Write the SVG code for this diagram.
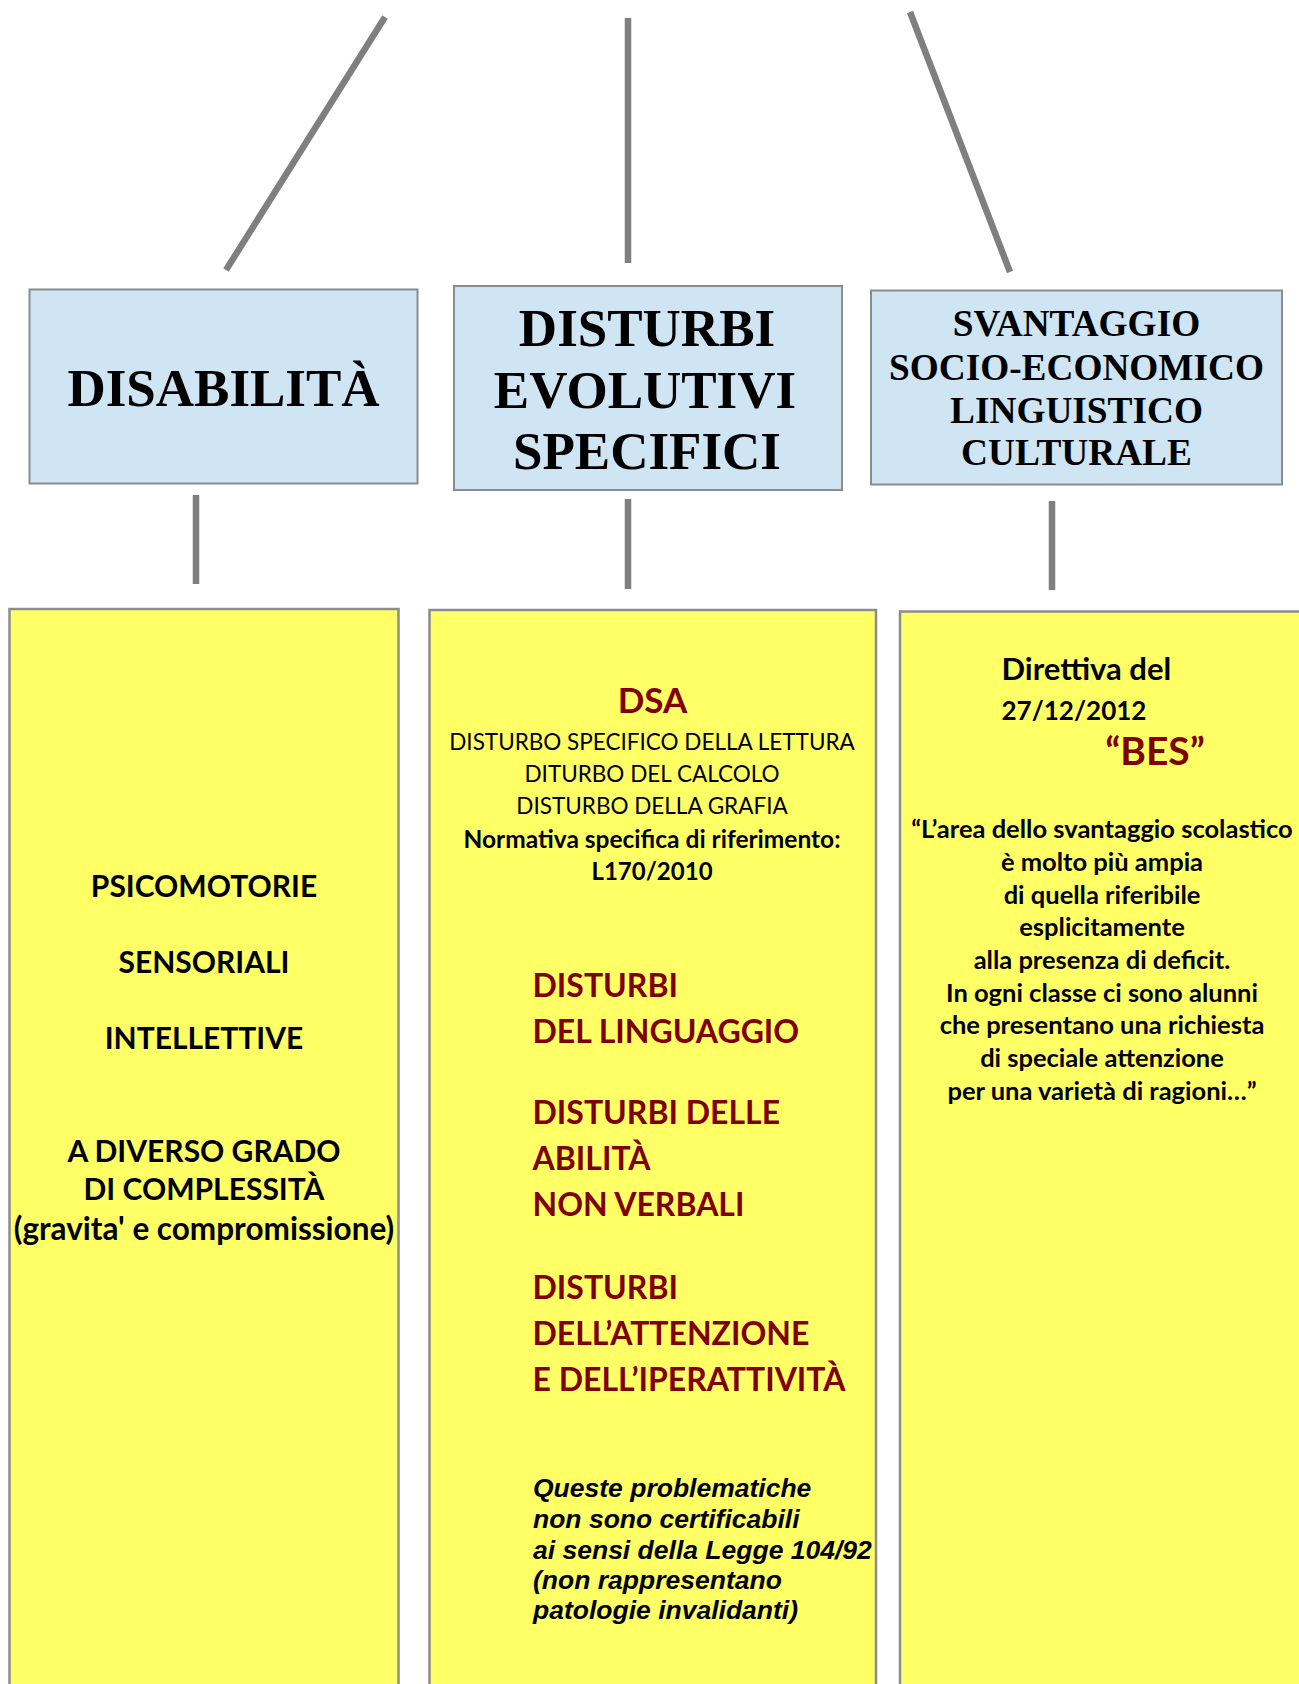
<svg xmlns="http://www.w3.org/2000/svg" width="1299" height="1684" viewBox="0 0 1299 1684">
<style>
.blue{fill:#CFE5F3;stroke:#8C8C8C;stroke-width:2}
.yel{fill:#FFFF66;stroke:#8C8C8C;stroke-width:2.5}
.conn line{stroke:#7F7F7F;stroke-width:6.5;stroke-linecap:butt}
.ser{font-family:"Liberation Serif","Times New Roman",serif;font-weight:bold;fill:#000;text-anchor:middle}
.sans{font-family:Lato,"Noto Sans",sans-serif;font-weight:bold;fill:#000}
.reg{font-family:Lato,"Noto Sans",sans-serif;font-weight:normal;fill:#000;text-anchor:middle}
.red{fill:#800000}
.it{font-family:"Liberation Sans",Arial,sans-serif;font-weight:bold;font-style:italic;fill:#000;font-size:26.5px}
.mid{text-anchor:middle}
.q{font-size:25.5px}
</style>
<rect width="1299" height="1684" fill="#FFFFFF"/>
<g id="connectors" class="conn">
<line x1="385" y1="17" x2="226" y2="270"/>
<line x1="628" y1="18" x2="628" y2="263"/>
<line x1="910" y1="12" x2="1010" y2="272"/>
<line x1="196" y1="495" x2="196" y2="584"/>
<line x1="628" y1="499" x2="628" y2="589"/>
<line x1="1052" y1="501" x2="1052" y2="590"/>
</g>
<g id="node-disabilita">
<rect class="blue" x="29.5" y="289.5" width="388" height="194"/>
<text class="ser" x="223.5" y="406" font-size="53">DISABILITÀ</text>
</g>
<g id="node-disturbi-evolutivi">
<rect class="blue" x="454" y="286" width="388" height="204"/>
<text class="ser" x="647" y="346" font-size="53">DISTURBI</text>
<text class="ser" x="645" y="408" font-size="53">EVOLUTIVI</text>
<text class="ser" x="647" y="469" font-size="53">SPECIFICI</text>
</g>
<g id="node-svantaggio">
<rect class="blue" x="871" y="290.5" width="411" height="194"/>
<text class="ser" x="1076.5" y="336" font-size="37.3">SVANTAGGIO</text>
<text class="ser" x="1076.5" y="380" font-size="37.3">SOCIO-ECONOMICO</text>
<text class="ser" x="1076.5" y="423" font-size="37.3">LINGUISTICO</text>
<text class="ser" x="1076.5" y="465" font-size="37.3">CULTURALE</text>
</g>
<g id="node-tipologie">
<rect class="yel" x="9.5" y="609" width="389" height="1090"/>
<text class="sans mid" x="204" y="897" font-size="30">PSICOMOTORIE</text>
<text class="sans mid" x="204" y="972.5" font-size="30">SENSORIALI</text>
<text class="sans mid" x="204" y="1048.5" font-size="30">INTELLETTIVE</text>
<text class="sans mid" x="204" y="1161.5" font-size="30">A DIVERSO GRADO</text>
<text class="sans mid" x="204" y="1200" font-size="30">DI COMPLESSITÀ</text>
<text class="sans mid" x="204" y="1239.5" font-size="31.5">(gravita' e compromissione)</text>
</g>
<g id="node-dsa">
<rect class="yel" x="429.5" y="610" width="446.5" height="1090"/>
<text class="sans mid red" x="652.5" y="712.5" font-size="35">DSA</text>
<text class="reg" x="652" y="749.5" font-size="22.5">DISTURBO SPECIFICO DELLA LETTURA</text>
<text class="reg" x="652" y="782" font-size="22.5">DITURBO DEL CALCOLO</text>
<text class="reg" x="652" y="814" font-size="22.5">DISTURBO DELLA GRAFIA</text>
<text class="sans mid" x="652" y="848" font-size="24.5">Normativa specifica di riferimento:</text>
<text class="sans mid" x="652" y="880" font-size="24">L170/2010</text>
<text class="sans red" x="532.5" y="996.5" font-size="32">DISTURBI</text>
<text class="sans red" x="532.5" y="1042.5" font-size="32">DEL LINGUAGGIO</text>
<text class="sans red" x="532.5" y="1123.5" font-size="32">DISTURBI DELLE</text>
<text class="sans red" x="532.5" y="1170" font-size="32">ABILITÀ</text>
<text class="sans red" x="532.5" y="1216" font-size="32">NON VERBALI</text>
<text class="sans red" x="532.5" y="1299" font-size="32">DISTURBI</text>
<text class="sans red" x="532.5" y="1344.5" font-size="32">DELL’ATTENZIONE</text>
<text class="sans red" x="532.5" y="1390.5" font-size="32">E DELL’IPERATTIVITÀ</text>
<text class="it" x="533" y="1497">Queste problematiche</text>
<text class="it" x="533" y="1528">non sono certificabili</text>
<text class="it" x="533" y="1558.5">ai sensi della Legge 104/92</text>
<text class="it" x="533" y="1588.5">(non rappresentano</text>
<text class="it" x="533" y="1618.5">patologie invalidanti)</text>
</g>
<g id="node-bes">
<rect class="yel" x="900" y="611.5" width="420" height="1090"/>
<text class="sans" x="1001.5" y="679.5" font-size="31">Direttiva del</text>
<text class="sans" x="1001.5" y="720" font-size="26">27/12/2012</text>
<text class="sans mid red" x="1155" y="765" font-size="39">“BES”</text>
<text class="sans mid q" x="1102" y="838">“L’area dello svantaggio scolastico</text>
<text class="sans mid q" x="1102" y="871">è molto più ampia</text>
<text class="sans mid q" x="1102" y="903.5">di quella riferibile</text>
<text class="sans mid q" x="1102" y="936">esplicitamente</text>
<text class="sans mid q" x="1102" y="968.5">alla presenza di deficit.</text>
<text class="sans mid q" x="1102" y="1001.5">In ogni classe ci sono alunni</text>
<text class="sans mid q" x="1102" y="1034">che presentano una richiesta</text>
<text class="sans mid q" x="1102" y="1067">di speciale attenzione</text>
<text class="sans mid q" x="1102" y="1099.5">per una varietà di ragioni…”</text>
</g>
</svg>
